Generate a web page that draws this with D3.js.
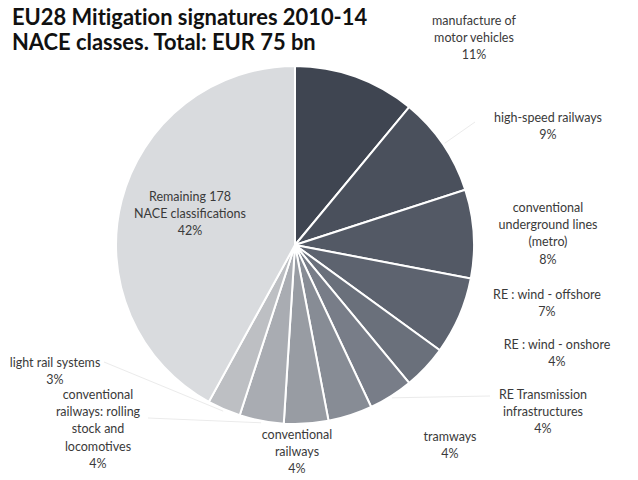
<!DOCTYPE html>
<html>
<head>
<meta charset="utf-8">
<script src="https://cdn.jsdelivr.net/npm/d3@7"></script>
<style>
  html, body { margin: 0; padding: 0; background: #ffffff; }
  svg { display: block; }
</style>
</head>
<body>
<svg id="chart" width="638" height="480"></svg>
<script>
// NACE classes, clockwise from 12 o'clock
const categories = [
  ["manufacture of", "motor vehicles"],
  ["high-speed railways"],
  ["conventional", "underground lines", "(metro)"],
  ["RE : wind - offshore"],
  ["RE : wind - onshore"],
  ["RE Transmission", "infrastructures"],
  ["tramways"],
  ["conventional", "railways"],
  ["conventional", "railways: rolling", "stock and", "locomotives"],
  ["light rail systems"],
  ["Remaining 178", "NACE classifications"]
];
const shares = [11, 9, 8, 7, 4, 4, 4, 4, 4, 3, 42];

const titleLines = ["EU28 Mitigation signatures 2010-14", "NACE classes. Total: EUR 75 bn"];

// Slice fills, dark slate to light grey
const fills = ["#3f4551", "#4a505c", "#535965", "#5d636f", "#6a707b", "#787d88",
               "#878c95", "#989ca3", "#a9acb2", "#bdbfc3", "#d9dbde"];

// Label anchors (centre x, first line y)
const labelPos = [
  [474, 25], [548, 122], [548, 212], [547, 299], [557, 349],
  [543, 399], [450, 441], [297, 439], [98, 399], [55, 367], [190, 201]
];
const lineH = 17.2;

const svg = d3.select("#chart");
const cx = 295, cy = 245, R = 179;

svg.selectAll("text.title")
  .data(titleLines)
  .join("text")
  .attr("class", "title")
  .attr("x", 12)
  .attr("y", (d, i) => 25 + i * 25)
  .attr("font-family", "Lato, 'Open Sans', sans-serif")
  .attr("font-weight", "bold")
  .attr("font-size", 21.9)
  .attr("fill", "#111")
  .style("font-variant-ligatures", "none")
  .text(d => d);

const pie = d3.pie().sort(null).value(d => d)(shares);
const arc = d3.arc().innerRadius(0).outerRadius(R);

const g = svg.append("g").attr("transform", `translate(${cx},${cy})`);

g.selectAll("path")
  .data(pie)
  .join("path")
  .attr("d", arc)
  .attr("fill", (d, i) => fills[i])
  .attr("stroke", "#ffffff")
  .attr("stroke-width", 2);

// Faint leader lines from a few labels to their slices
const leaders = [
  { i: 5, from: [490, 396] },
  { i: 8, from: [148, 418] },
  { i: 9, from: [104, 362] },
  { i: 1, from: [475, 122] }
];
svg.selectAll("line.leader")
  .data(leaders)
  .join("line")
  .attr("class", "leader")
  .attr("x1", d => d.from[0])
  .attr("y1", d => d.from[1])
  .attr("x2", d => {
    const a = (pie[d.i].startAngle + pie[d.i].endAngle) / 2;
    return cx + Math.sin(a) * (R + 2);
  })
  .attr("y2", d => {
    const a = (pie[d.i].startAngle + pie[d.i].endAngle) / 2;
    return cy - Math.cos(a) * (R + 2);
  })
  .attr("stroke", "#ebebeb")
  .attr("stroke-width", 1);

const labels = svg.selectAll("text.lbl")
  .data(pie)
  .join("text")
  .attr("class", "lbl")
  .attr("text-anchor", "middle")
  .attr("font-family", "Lato, 'Open Sans', sans-serif")
  .attr("font-size", 12.5)
  .attr("fill", "#3a3a3a");

labels.each(function(d, i) {
  const t = d3.select(this);
  const lines = categories[i].concat([d.data + "%"]);
  lines.forEach((s, k) => {
    t.append("tspan")
      .attr("x", labelPos[i][0])
      .attr("y", labelPos[i][1] + k * lineH)
      .text(s);
  });
});
</script>
</body>
</html>
